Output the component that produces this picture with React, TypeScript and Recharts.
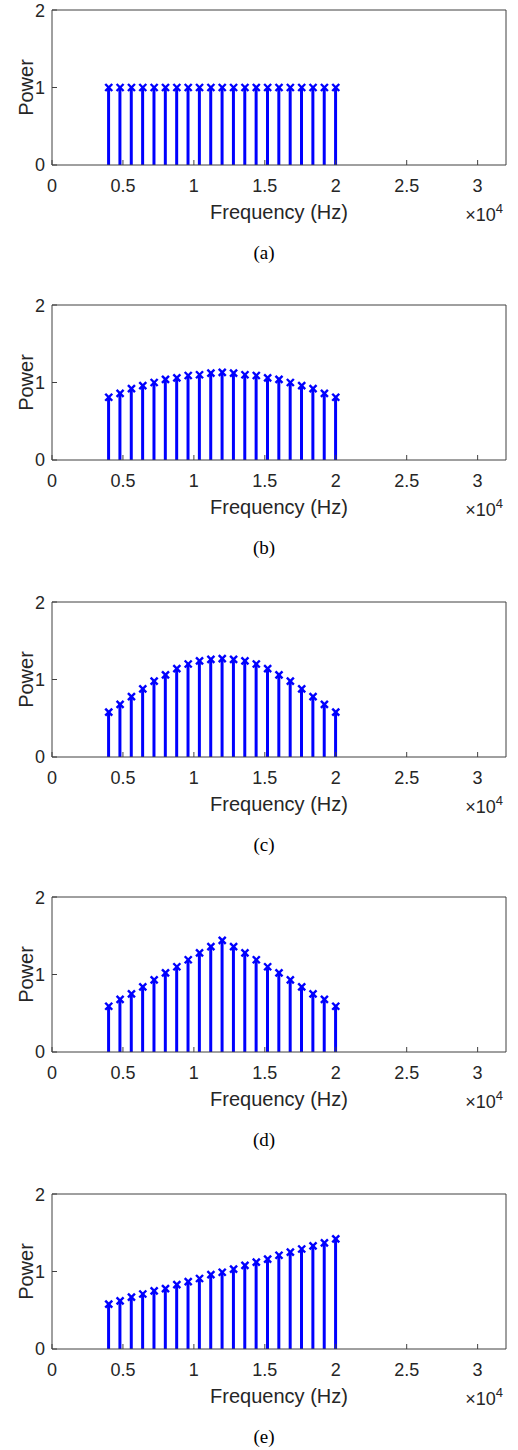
import React from 'react';
import { ComposedChart, Bar, Scatter, XAxis, YAxis, Label } from 'recharts';

const FREQS = [4000, 4800, 5600, 6400, 7200, 8000, 8800, 9600, 10400, 11200, 12000, 12800, 13600, 14400, 15200, 16000, 16800, 17600, 18400, 19200, 20000];
const X_TICKS = [0, 5000, 10000, 15000, 20000, 25000, 30000];
const Y_TICKS = [0, 1, 2];
const CAPTIONS = ['(a)', '(b)', '(c)', '(d)', '(e)'];

const POWER_A = [1, 1, 1, 1, 1, 1, 1, 1, 1, 1, 1, 1, 1, 1, 1, 1, 1, 1, 1, 1, 1];
const POWER_B = [0.81, 0.86, 0.92, 0.96, 1.0, 1.04, 1.06, 1.09, 1.1, 1.12, 1.13, 1.12, 1.1, 1.09, 1.06, 1.04, 1.0, 0.96, 0.92, 0.86, 0.81];
const POWER_C = [0.58, 0.68, 0.78, 0.88, 0.98, 1.06, 1.14, 1.2, 1.24, 1.26, 1.27, 1.26, 1.24, 1.2, 1.14, 1.06, 0.98, 0.88, 0.78, 0.68, 0.58];
const POWER_D = [0.59, 0.68, 0.75, 0.84, 0.93, 1.02, 1.1, 1.19, 1.28, 1.36, 1.44, 1.36, 1.28, 1.19, 1.1, 1.02, 0.93, 0.84, 0.75, 0.68, 0.59];
const POWER_E = [0.58, 0.62, 0.67, 0.71, 0.75, 0.78, 0.83, 0.87, 0.91, 0.96, 0.99, 1.03, 1.08, 1.12, 1.16, 1.21, 1.25, 1.29, 1.33, 1.37, 1.42];

const SERIES = [POWER_A, POWER_B, POWER_C, POWER_D, POWER_E];
const PANEL_TOPS = [0, 295, 592, 887, 1184];

const BLUE = '#0000FF';
const AXIS = '#404040';
const TEXT = '#262626';
const SANS = '"Liberation Sans", Arial, Helvetica, sans-serif';

// x-shaped marker like matlab's stem(...,'x')
const Cross = (props: any) => {
  const { cx, cy } = props;
  if (cx == null || cy == null) return null;
  const s = 3.5;
  return (
    <g stroke={BLUE} strokeWidth={2.4}>
      <line x1={cx - s} y1={cy - s} x2={cx + s} y2={cy + s} />
      <line x1={cx - s} y1={cy + s} x2={cx + s} y2={cy - s} />
    </g>
  );
};

const Nothing = () => <g />;

const XLabel = (caption: string) => (props: any) => {
  const { x, y, width } = props.viewBox;
  return (
    <g>
      <text x={x + width / 2} y={y + 54} textAnchor="middle" fontSize={20} fill={TEXT} fontFamily={SANS}>
        Frequency (Hz)
      </text>
      <text x={x + width - 3} y={y + 56} textAnchor="end" fontSize={18} fill={TEXT} fontFamily={SANS}>
        ×10<tspan dy={-8} fontSize={13}>4</tspan>
      </text>
      <text x={264} y={y + 94} textAnchor="middle" fontSize={19} fill="#000" fontFamily='"Liberation Serif", "Times New Roman", serif'>
        {caption}
      </text>
    </g>
  );
};

const Panel = ({ values, caption }: { values: number[]; caption: string }) => {
  const rows = FREQS.map((f, i) => ({ f, p: values[i] }));
  const tickStyle = { fontSize: 18, fill: TEXT, fontFamily: SANS };
  return (
    <ComposedChart width={518} height={275} data={rows} margin={{ top: 10, right: 12, left: 0, bottom: 50 }}>
      <XAxis
        dataKey="f"
        type="number"
        domain={[0, 32000]}
        ticks={X_TICKS}
        tickFormatter={(v: number) => String(v / 10000)}
        height={60}
        tickSize={-5}
        tickMargin={19}
        tick={tickStyle}
        stroke={AXIS}
        allowDataOverflow
      >
        <Label content={XLabel(caption)} />
      </XAxis>
      {/* mirrored axes close the box (top / right) without taking space */}
      <XAxis
        xAxisId="top"
        dataKey="f"
        orientation="top"
        mirror
        type="number"
        domain={[0, 32000]}
        ticks={X_TICKS}
        tickSize={5}
        tick={false}
        stroke={AXIS}
        allowDataOverflow
      />
      <YAxis
        type="number"
        domain={[0, 2]}
        ticks={Y_TICKS}
        width={52}
        tickSize={-5}
        tickMargin={12}
        tick={tickStyle}
        stroke={AXIS}
        allowDataOverflow
      >
        <Label value="Power" angle={-90} position="center" fontSize={20} fill={TEXT} fontFamily={SANS} />
      </YAxis>
      <YAxis
        yAxisId="right"
        orientation="right"
        mirror
        type="number"
        domain={[0, 2]}
        ticks={Y_TICKS}
        tickSize={5}
        tick={false}
        stroke={AXIS}
        allowDataOverflow
      />
      <Bar dataKey="p" barSize={3} fill={BLUE} isAnimationActive={false} />
      <Scatter dataKey="p" shape={Cross} isAnimationActive={false} />
      <Scatter xAxisId="top" yAxisId="right" dataKey="p" shape={Nothing} legendType="none" isAnimationActive={false} />
    </ComposedChart>
  );
};

export default function App() {
  return (
    <div style={{ position: 'absolute', left: 0, top: 0, width: 518, height: 1450, background: '#fff' }}>
      {SERIES.map((vals, i) => (
        <div key={i} style={{ position: 'absolute', left: 0, top: PANEL_TOPS[i] }}>
          <Panel values={vals} caption={CAPTIONS[i]} />
        </div>
      ))}
    </div>
  );
}
